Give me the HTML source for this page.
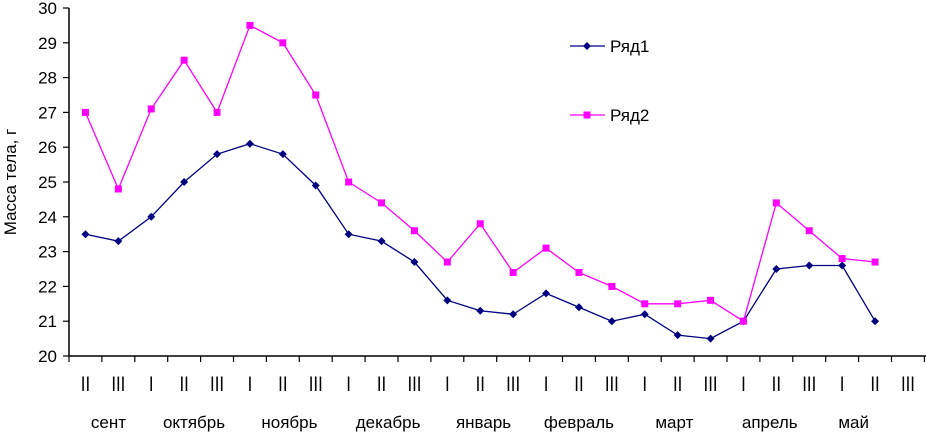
<!DOCTYPE html>
<html><head><meta charset="utf-8"><style>
body{margin:0;background:#fff;}
svg{display:block;font-family:"Liberation Sans",Arial,sans-serif;}
</style></head><body>
<svg id="chart" width="926" height="434" viewBox="0 0 926 434"></svg>
<script>
const periods=["II","III","I","II","III","I","II","III","I","II","III","I","II","III","I","II","III","I","II","III","I","II","III","I","II","III"];
const months=["сент","октябрь","ноябрь","декабрь","январь","февраль","март","апрель","май"];
const monthCenters=[1.2,3.8,6.7,9.7,12.6,15.5,18.4,21.3,23.85];
const yTicks=[20,21,22,23,24,25,26,27,28,29,30];
const series1=[23.5,23.3,24.0,25.0,25.8,26.1,25.8,24.9,23.5,23.3,22.7,21.6,21.3,21.2,21.8,21.4,21.0,21.2,20.6,20.5,21.0,22.5,22.6,22.6,21.0];
const series2=[27.0,24.8,27.1,28.5,27.0,29.5,29.0,27.5,25.0,24.4,23.6,22.7,23.8,22.4,23.1,22.4,22.0,21.5,21.5,21.6,21.0,24.4,23.6,22.8,22.7];
const NS="http://www.w3.org/2000/svg";
const svg=document.getElementById('chart');
const L=69,T=8,B=356,W=32.9;
const y=v=>B-(v-20)*(B-T)/10;
const xc=i=>L+W*(i+0.5);
function mk(t,a,p){const e=document.createElementNS(NS,t);for(const k in a)e.setAttribute(k,a[k]);(p||svg).appendChild(e);return e;}
const ax=mk('g',{});


mk('line',{x1:L,y1:T,x2:L,y2:B,stroke:'#000','stroke-width':1.5},ax);
mk('line',{x1:L,y1:B,x2:926,y2:B,stroke:'#000','stroke-width':1.5},ax);
yTicks.forEach(v=>{
 mk('line',{x1:L-6,y1:y(v),x2:L,y2:y(v),stroke:'#000','stroke-width':1.2},ax);
 const t=mk('text',{x:57,y:y(v)+6,'text-anchor':'end','font-size':17},ax);t.textContent=v;
 
 
});
for(let i=0;i<=periods.length;i++)mk('line',{x1:L+W*i,y1:B,x2:L+W*i,y2:B+6,stroke:'#000','stroke-width':1.2},ax);
periods.forEach((p,i)=>{const t=mk('text',{x:xc(i),y:391,'text-anchor':'middle','font-size':21,'font-family':'"Liberation Sans Narrow","Liberation Sans",sans-serif','transform':`translate(${xc(i)} 0) scale(0.8 1) translate(${-xc(i)} 0)`},ax);t.textContent=p;
 
 });
months.forEach((m,i)=>{const t=mk('text',{x:L+W*monthCenters[i],y:428,'text-anchor':'middle','font-size':17},ax);t.textContent=m;
 
 });
const yt=mk('text',{x:16,y:182,'text-anchor':'middle','font-size':17,transform:'rotate(-90 16 182)'});
yt.textContent='Масса тела, г';


function draw(data,color,shape,name){
 const g=mk('g',{});
 
 
 mk('polyline',{points:data.map((v,i)=>xc(i)+','+y(v)).join(' '),fill:'none',stroke:color,'stroke-width':1.3},g);
 data.forEach((v,i)=>{const cx=xc(i),cy=y(v);
  if(shape==='d')mk('polygon',{points:`${cx},${cy-4} ${cx+4},${cy} ${cx},${cy+4} ${cx-4},${cy}`,fill:color},g);
  else mk('rect',{x:cx-3.5,y:cy-3.5,width:7,height:7,fill:color},g);});
}
draw(series1,'#000080','d','series-ryad1');
draw(series2,'#ff00ff','s','series-ryad2');
function leg(yy,color,shape,label,name){
 const g=mk('g',{});
 
 
 mk('line',{x1:570,y1:yy,x2:605,y2:yy,stroke:color,'stroke-width':1.3},g);
 const cx=587;
 if(shape==='d')mk('polygon',{points:`${cx},${yy-4} ${cx+4},${yy} ${cx},${yy+4} ${cx-4},${yy}`,fill:color},g);
 else mk('rect',{x:cx-3.5,y:yy-3.5,width:7,height:7,fill:color},g);
 const t=mk('text',{x:610,y:yy+6,'font-size':17},g);t.textContent=label;
}
leg(46,'#000080','d','Ряд1','legend-ryad1');
leg(115,'#ff00ff','s','Ряд2','legend-ryad2');
</script>
</body></html>
